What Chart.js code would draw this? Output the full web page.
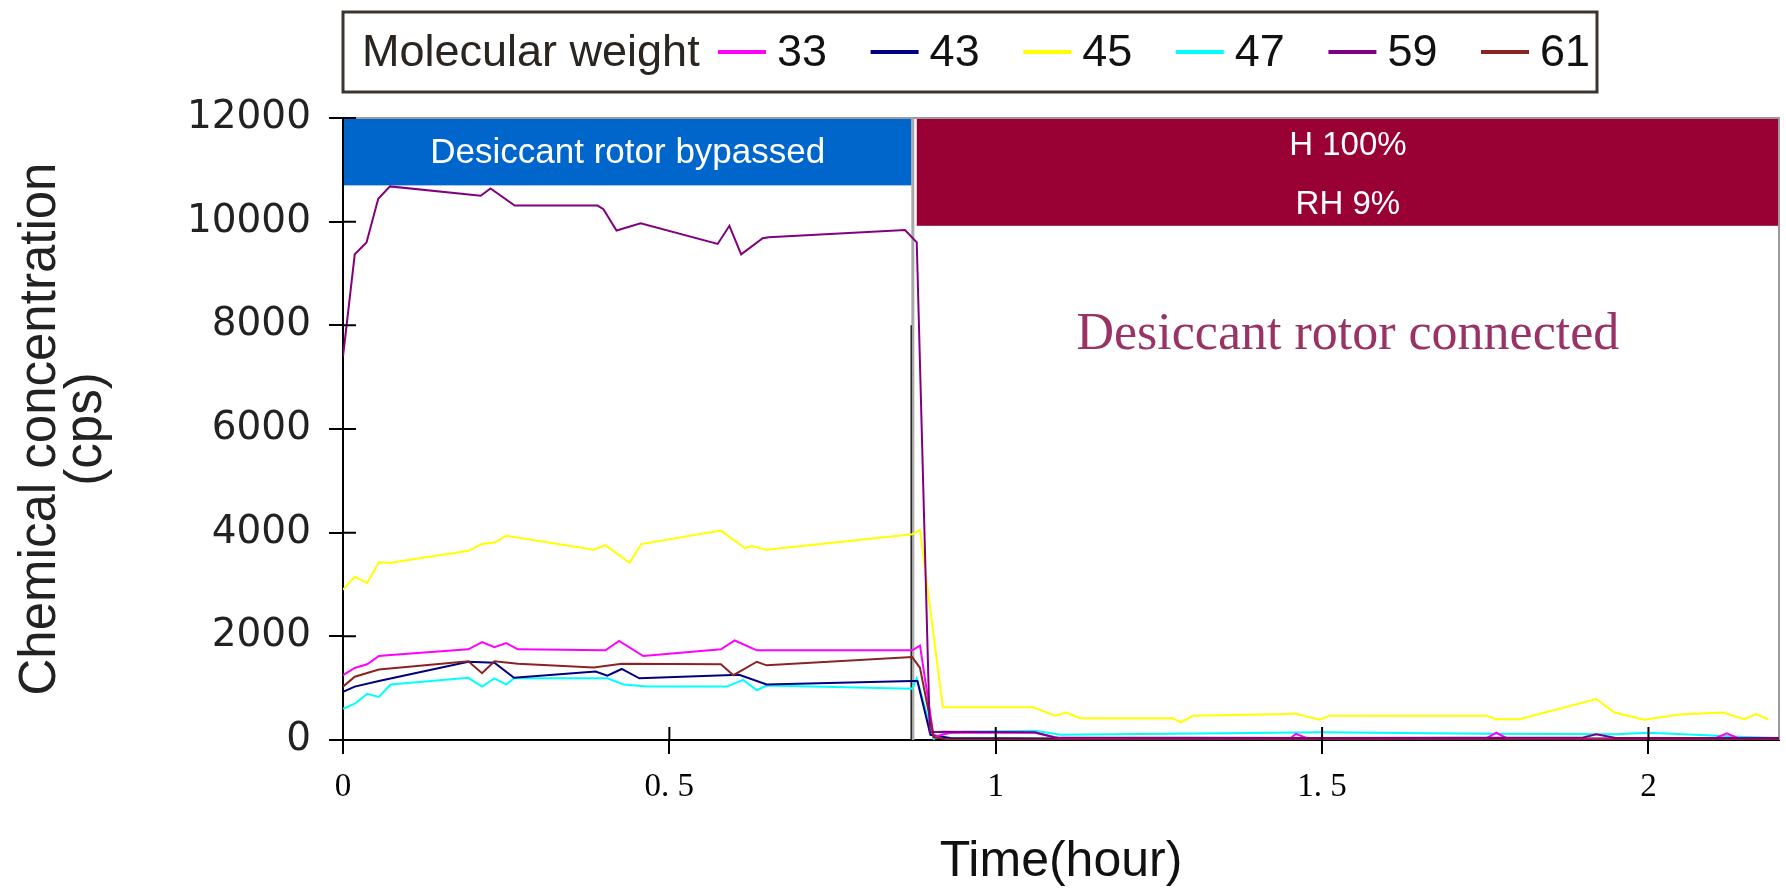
<!DOCTYPE html>
<html><head><meta charset="utf-8">
<script src="https://cdn.jsdelivr.net/npm/chart.js@4.4.1/dist/chart.umd.min.js"></script>
<style>html,body{margin:0;padding:0;background:#fff;}#wrap{width:1786px;height:888px;position:relative;}</style>
</head><body><div id="wrap"><canvas id="c"></canvas></div>
<script>
// ---------- data ----------
const seriesLabels = ['33', '43', '45', '47', '59', '61'];
const legendTitle = 'Molecular weight';

const t33 = [0, 0.018, 0.037, 0.055, 0.073, 0.192, 0.213, 0.232, 0.25, 0.268, 0.402, 0.423, 0.46, 0.579, 0.6, 0.634, 0.872, 0.884, 0.905, 0.93, 1.06, 1.1, 1.3, 1.45, 1.46, 1.48, 1.75, 1.767, 1.785, 2.1, 2.12, 2.14, 2.2];
const v33 = [1250, 1390, 1460, 1620, 1640, 1750, 1890, 1790, 1870, 1750, 1730, 1910, 1620, 1750, 1920, 1730, 1730, 1820, 60, 140, 140, 30, 20, 20, 120, 20, 20, 140, 20, 20, 130, 20, 20];

const t43 = [0, 0.018, 0.055, 0.192, 0.232, 0.262, 0.387, 0.405, 0.427, 0.454, 0.607, 0.649, 0.872, 0.88, 0.9, 0.93, 1.1, 2.2];
const v43 = [930, 1030, 1140, 1510, 1490, 1200, 1320, 1240, 1370, 1190, 1260, 1070, 1140, 1140, 100, 40, 30, 30];

const t45 = [0, 0.018, 0.037, 0.055, 0.073, 0.192, 0.213, 0.232, 0.25, 0.384, 0.402, 0.439, 0.457, 0.579, 0.616, 0.625, 0.649, 0.872, 0.884, 0.919, 1.057, 1.091, 1.108, 1.129, 1.271, 1.284, 1.302, 1.445, 1.458, 1.496, 1.512, 1.751, 1.767, 1.802, 1.92, 1.948, 1.994, 2.047, 2.114, 2.147, 2.165, 2.183];
const v45 = [2900, 3150, 3030, 3430, 3420, 3650, 3780, 3810, 3940, 3670, 3760, 3420, 3780, 4040, 3700, 3740, 3670, 3970, 4050, 630, 630, 470, 530, 420, 420, 340, 470, 500, 510, 390, 470, 470, 400, 400, 790, 530, 390, 490, 530, 400, 500, 400];

const t47 = [0, 0.018, 0.037, 0.055, 0.073, 0.192, 0.213, 0.232, 0.25, 0.262, 0.405, 0.43, 0.466, 0.588, 0.613, 0.634, 0.649, 0.872, 0.879, 0.905, 0.92, 0.95, 1.06, 1.1, 1.35, 1.5, 1.75, 1.95, 2.0, 2.15, 2.2];
const v47 = [600, 700, 890, 830, 1070, 1200, 1030, 1190, 1070, 1190, 1190, 1070, 1030, 1030, 1160, 960, 1050, 990, 1190, 20, 120, 160, 180, 100, 130, 150, 120, 110, 140, 60, 40];

const t59 = [0, 0.018, 0.036, 0.054, 0.072, 0.211, 0.226, 0.263, 0.39, 0.399, 0.419, 0.456, 0.574, 0.592, 0.61, 0.643, 0.652, 0.861, 0.879, 0.899, 0.92, 1.06, 1.09, 1.5, 1.9, 1.92, 1.95, 2.2];
const v59 = [7400, 9370, 9600, 10440, 10680, 10500, 10640, 10310, 10310, 10240, 9830, 9970, 9570, 9920, 9370, 9680, 9700, 9840, 9600, 150, 160, 150, 50, 40, 50, 110, 40, 40];

const t61 = [0, 0.018, 0.055, 0.192, 0.213, 0.232, 0.268, 0.384, 0.427, 0.579, 0.598, 0.634, 0.649, 0.872, 0.884, 0.905, 0.93, 2.2];
const v61 = [1030, 1220, 1360, 1520, 1290, 1520, 1470, 1400, 1470, 1460, 1250, 1510, 1440, 1600, 1390, 50, 10, 10];

const xTickValues = [0, 0.5, 1, 1.5, 2];
const xTickLabels = ['0', '0. 5', '1', '1. 5', '2'];
const yTickValues = [0, 2000, 4000, 6000, 8000, 10000, 12000];

// ---------- styles ----------
const seriesColors = ['#FF00FF', '#000080', '#FFFF00', '#00FFFF', '#800080', '#8B2323'];
const SANS = "'Liberation Sans', Arial, sans-serif";
const SERIF = "'Liberation Serif', 'Times New Roman', serif";

const times = [t33, t43, t45, t47, t59, t61];
const values = [v33, v43, v45, v47, v59, v61];
const datasets = seriesLabels.map((lab, i) => ({
  label: lab,
  data: times[i].map((t, k) => ({ x: t, y: values[i][k] })),
  borderColor: seriesColors[i],
  backgroundColor: seriesColors[i],
  borderWidth: 2,
  pointRadius: 0,
  tension: 0,
  fill: false,
  order: i === 4 ? 0 : (i === 5 ? 1 : 2 + i)
}));

const annot = {
  id: 'annot',
  beforeDatasetsDraw(chart) {
    const { ctx, chartArea: a, scales: { x, y } } = chart;
    ctx.save();
    // blue band
    const bx0 = x.getPixelForValue(0) + 1, bx1 = x.getPixelForValue(0.871);
    const by0 = y.getPixelForValue(12000), by1 = y.getPixelForValue(10700);
    ctx.fillStyle = '#0066CC';
    ctx.fillRect(bx0, by0, bx1 - bx0, by1 - by0);
    ctx.fillStyle = '#ffffff';
    ctx.font = '35px ' + SANS;
    ctx.textAlign = 'center'; ctx.textBaseline = 'middle';
    ctx.fillText('Desiccant rotor bypassed', (bx0 + bx1) / 2, (by0 + by1) / 2 + 2);
    // red band
    const rx0 = x.getPixelForValue(0.879), rx1 = a.right;
    const ry0 = y.getPixelForValue(12000), ry1 = y.getPixelForValue(9920);
    ctx.fillStyle = '#990033';
    ctx.fillRect(rx0, ry0, rx1 - rx0, ry1 - ry0);
    ctx.fillStyle = '#ffffff';
    ctx.font = '33px ' + SANS;
    const rc = (rx0 + rx1) / 2;
    ctx.fillText('H 100%', rc, y.getPixelForValue(11460));
    ctx.fillText('RH 9%', rc, y.getPixelForValue(10330));
    ctx.fillStyle = '#993366';
    ctx.font = '52px ' + SERIF;
    ctx.fillText('Desiccant rotor connected', rc, y.getPixelForValue(7800));
    // frame top/right
    ctx.strokeStyle = '#9a9a9a'; ctx.lineWidth = 2;
    ctx.beginPath();
    ctx.moveTo(a.left, a.top); ctx.lineTo(a.right, a.top); ctx.lineTo(a.right, a.bottom);
    ctx.stroke();
    // divider
    const dx = x.getPixelForValue(0.873);
    ctx.strokeStyle = '#a8a8a8'; ctx.lineWidth = 3;
    ctx.beginPath(); ctx.moveTo(dx, a.top); ctx.lineTo(dx, a.bottom); ctx.stroke();
    const dk = x.getPixelForValue(0.8705);
    ctx.strokeStyle = '#222'; ctx.lineWidth = 1.5;
    ctx.beginPath(); ctx.moveTo(dk, y.getPixelForValue(8000)); ctx.lineTo(dk, a.bottom); ctx.stroke();
    ctx.restore();
  },
  afterDraw(chart) {
    const { ctx, chartArea: a, scales: { x, y } } = chart;
    ctx.save();
    // inner halves of tick marks (ticks cross the axes)
    ctx.strokeStyle = '#000'; ctx.lineWidth = 2;
    ctx.beginPath();
    y.ticks.forEach(tk => { const p = y.getPixelForValue(tk.value); ctx.moveTo(a.left, p); ctx.lineTo(a.left + 13, p); });
    x.ticks.forEach(tk => { const p = x.getPixelForValue(tk.value); ctx.moveTo(p, a.bottom); ctx.lineTo(p, a.bottom - 13); });
    ctx.stroke();
    // legend box
    ctx.strokeStyle = '#3a3530'; ctx.lineWidth = 3;
    ctx.strokeRect(343, 12, 1254, 80);
    ctx.textBaseline = 'middle'; ctx.textAlign = 'left';
    ctx.font = '45px ' + SANS;
    ctx.fillStyle = '#2a2520';
    ctx.fillText(legendTitle, 362, 54);
    chart.data.datasets.forEach((ds, i) => {
      const x0 = 718 + i * 152.6;
      ctx.strokeStyle = ds.borderColor; ctx.lineWidth = 4;
      ctx.beginPath(); ctx.moveTo(x0, 52); ctx.lineTo(x0 + 48, 52); ctx.stroke();
      ctx.fillStyle = '#111';
      ctx.fillText(ds.label, x0 + 59, 54);
    });
    ctx.restore();
  }
};

new Chart(document.getElementById('c'), {
  type: 'line',
  data: { datasets },
  options: {
    responsive: true,
    maintainAspectRatio: false,
    animation: false,
    layout: { padding: { top: 118, right: 7, bottom: 0, left: 0 } },
    plugins: { legend: { display: false }, tooltip: { enabled: false } },
    scales: {
      x: {
        type: 'linear', min: 0, max: 2.2,
        afterBuildTicks: s => { s.ticks = xTickValues.map(v => ({ value: v })); },
        afterFit: s => { s.height = 148; },
        ticks: {
          callback: (v, i) => xTickLabels[i],
          font: { family: SERIF, size: 33 }, color: '#000', padding: 14, maxRotation: 0
        },
        grid: { drawOnChartArea: false, drawTicks: true, tickLength: 14, color: '#000', lineWidth: 2 },
        border: { display: true, color: '#000', width: 2 },
        title: { display: true, text: 'Time(hour)', font: { family: SANS, size: 50, lineHeight: 1 }, color: '#111', padding: { top: 0, bottom: 1 } }
      },
      y: {
        type: 'linear', min: 0, max: 12000,
        afterBuildTicks: s => { s.ticks = yTickValues.map(v => ({ value: v })); },
        afterFit: s => { s.width = 343; },
        ticks: {
          callback: v => String(v),
          font: { family: "'DejaVu Sans', sans-serif", size: 39 }, color: '#222', padding: 18
        },
        grid: { drawOnChartArea: false, drawTicks: true, tickLength: 14, color: '#000', lineWidth: 2 },
        border: { display: true, color: '#000', width: 2 },
        title: { display: true, text: ['Chemical concentration', '(cps)'], font: { family: SANS, size: 51, lineHeight: 0.92 }, color: '#222', padding: { top: 17, bottom: 0 } }
      }
    }
  },
  plugins: [annot]
});
</script>
</body></html>
